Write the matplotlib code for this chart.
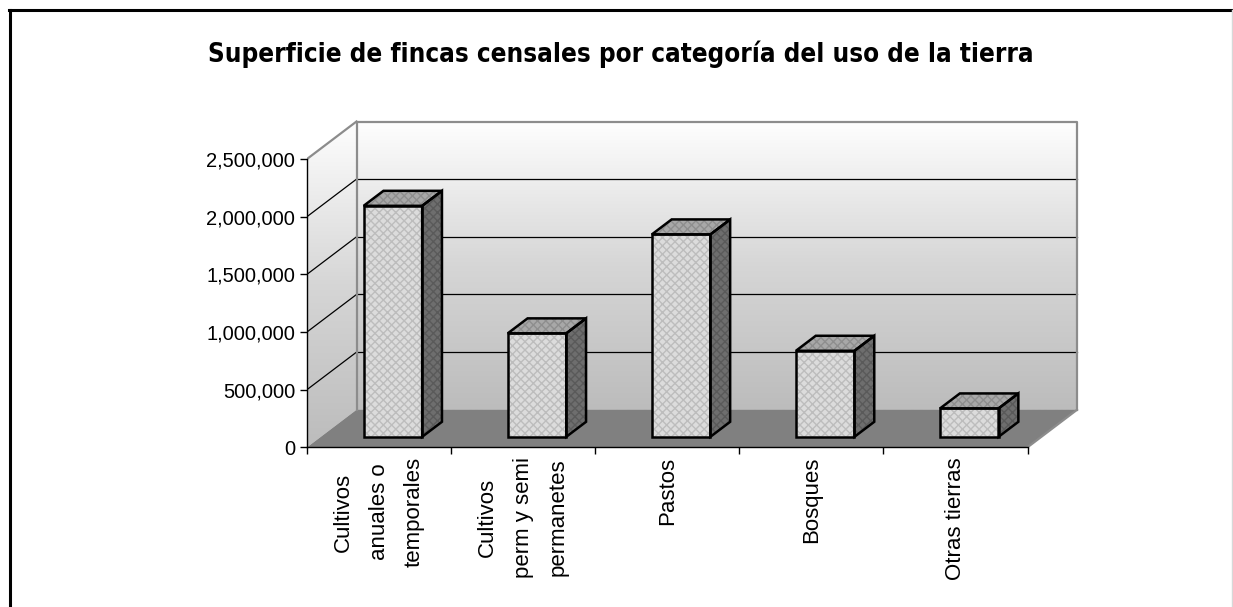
import numpy as np
import matplotlib
matplotlib.use("Agg")
import matplotlib.pyplot as plt
from matplotlib.patches import Polygon
from matplotlib.lines import Line2D
from matplotlib import font_manager
from matplotlib.font_manager import FontProperties
from matplotlib.colors import LinearSegmentedColormap

# ---------------- data ----------------
title = "Superficie de fincas censales por categoría del uso de la tierra"
categories = ["Cultivos\nanuales o\ntemporales",
              "Cultivos\nperm y semi\npermanetes",
              "Pastos",
              "Bosques",
              "Otras tierras"]
values = [2003000, 897000, 1755000, 746000, 246000]
yticks = [0, 500000, 1000000, 1500000, 2000000, 2500000]
ytick_labels = ["0", "500,000", "1,000,000", "1,500,000", "2,000,000", "2,500,000"]

# ---------------- style / geometry ----------------
plt.rcParams['font.family'] = ['Liberation Sans', 'DejaVu Sans']
W_PX, H_PX = 1233, 607
fig = plt.figure(figsize=(W_PX / 100, H_PX / 100), dpi=100)
fig.patch.set_facecolor('white')

X0_PX, Y0_PX = 307.0, 447.3          # pixel position of data origin
PX_PER_CAT = 144.1
PX_PER_VAL = 57.66 / 500000
XMAX, YMAX = 5.45, 2.9e6
ax = fig.add_axes([X0_PX / W_PX, (H_PX - Y0_PX) / H_PX,
                   XMAX * PX_PER_CAT / W_PX, YMAX * PX_PER_VAL / H_PX])
ax.set_facecolor('none')

n = len(categories)
VTOP = yticks[-1]
DX = 49.5 / PX_PER_CAT                 # depth offset in category units
DY = 37.5 / PX_PER_VAL                 # depth offset in value units
F0, F1 = 0.28, 0.68                    # bar depth span (fraction of depth)
BW = 58.5 / PX_PER_CAT                 # bar width

grad = np.linspace(0, 1, 256).reshape(-1, 1)
wall_cmap = LinearSegmentedColormap.from_list('wall', ['#bcbcbc', '#d6d6d6', '#fefefe'])

# back wall
ax.imshow(grad, extent=(DX, n + DX, DY, VTOP + DY), origin='lower',
          cmap=wall_cmap, aspect='auto', interpolation='bilinear', zorder=0)
# side (left) wall
side = ax.imshow(grad, extent=(0, DX, 0, VTOP + DY), origin='lower',
                 cmap=wall_cmap, aspect='auto', interpolation='bilinear', zorder=0)
side_poly = Polygon([(0, 0), (DX, DY), (DX, VTOP + DY), (0, VTOP)],
                    closed=True, transform=ax.transData, facecolor='none', edgecolor='none')
ax.add_patch(side_poly)
side.set_clip_path(side_poly)

# floor
ax.add_patch(Polygon([(0, 0), (n, 0), (n + DX, DY), (DX, DY)], closed=True,
                     facecolor='#808080', edgecolor='none', zorder=1))

# gridlines
for v in yticks[1:-1]:
    ax.plot([DX, n + DX], [v + DY, v + DY], color='black', lw=0.9, zorder=1.5)
    ax.plot([0, DX], [v, v + DY], color='black', lw=0.9, zorder=1.5)

# wall borders
gray = '#8c8c8c'
ax.plot([DX, DX, n + DX, n + DX], [DY, VTOP + DY, VTOP + DY, DY], color=gray, lw=1.6, zorder=1.6)
ax.plot([0, DX], [VTOP, VTOP + DY], color=gray, lw=1.6, zorder=1.6)
ax.plot([n, n + DX], [0, DY], color=gray, lw=1.6, zorder=1.6)

# bars
ddx = (F1 - F0) * DX
ddy = (F1 - F0) * DY
for i, v in enumerate(values):
    x0 = i + 0.5 - BW / 2 + F0 * DX
    y0 = F0 * DY
    front = [(x0, y0), (x0 + BW, y0), (x0 + BW, y0 + v), (x0, y0 + v)]
    top = [(x0, y0 + v), (x0 + BW, y0 + v), (x0 + BW + ddx, y0 + v + ddy), (x0 + ddx, y0 + v + ddy)]
    sidef = [(x0 + BW, y0), (x0 + BW + ddx, y0 + ddy), (x0 + BW + ddx, y0 + v + ddy), (x0 + BW, y0 + v)]
    for pts, fc, hc in [(front, '#dcdcdc', '#bdbdbd'),
                        (top, '#a8a8a8', '#8e8e8e'),
                        (sidef, '#6e6e6e', '#5a5a5a')]:
        ax.add_patch(Polygon(pts, closed=True, facecolor=fc, edgecolor=hc,
                             hatch='xxxx', lw=0, zorder=3))
        ax.add_patch(Polygon(pts, closed=True, facecolor='none', edgecolor='black',
                             lw=1.8, joinstyle='miter', zorder=3.1))

# axes and ticks
ax.set_xlim(0, XMAX)
ax.set_ylim(0, YMAX)
for s in ['top', 'right']:
    ax.spines[s].set_visible(False)
ax.spines['left'].set_bounds(0, VTOP)
ax.spines['bottom'].set_bounds(0, n)
for s in ['left', 'bottom']:
    ax.spines[s].set_linewidth(1.0)
    ax.spines[s].set_color('black')
    ax.spines[s].set_zorder(2)

ax.set_yticks(yticks)
ax.set_yticklabels(ytick_labels, fontsize=14.5)
ax.tick_params(axis='y', direction='out', length=5, width=1, pad=3.5, colors='black')

ax.set_xticks(np.arange(n + 1))
ax.set_xticklabels([])
ax.tick_params(axis='x', which='major', direction='out', length=5, width=1, colors='black')
ax.set_xticks(np.arange(n) + 0.5, minor=True)
ax.set_xticklabels(categories, minor=True, rotation=90, fontsize=16,
                   linespacing=1.9, multialignment='center')
ax.tick_params(axis='x', which='minor', length=0, pad=7)

# title: prefer a narrow/condensed bold face if one is installed
title_fp = None
pref = ['Liberation Sans Narrow', 'Arimo', 'Noto Sans', 'DejaVu Sans', 'Roboto', 'Open Sans']
condensed = []
for f in font_manager.fontManager.ttflist:
    nm = f.name
    fn = f.fname.lower()
    is_cond = (f.stretch in ('condensed', 'semi-condensed', 'extra-condensed')
               or 'narrow' in fn or 'condensed' in fn)
    is_bold = (f.weight in ('bold', 700, 'semibold', 600)
               or (isinstance(f.weight, int) and f.weight >= 600)
               or 'bold' in fn)
    if is_cond and is_bold and 'italic' not in fn and 'oblique' not in fn \
            and 'semibold' not in fn and 'extrabold' not in fn and 'semicondensed' not in fn \
            and 'extracondensed' not in fn and 'mono' not in fn and 'serif' not in fn.replace('sans', ''):
        rank = len(pref)
        for k, p in enumerate(pref):
            if nm.startswith(p) or p.lower().replace(' ', '') in fn.replace('-', '').replace('_', ''):
                rank = k
                break
        condensed.append((rank, f.fname))
if condensed:
    condensed.sort()
    title_fp = FontProperties(fname=condensed[0][1])
else:
    title_fp = FontProperties(family=['Liberation Sans', 'DejaVu Sans'], weight='bold')

t = fig.text(620.5 / W_PX, (H_PX - 61.7) / H_PX, title, ha='center', va='baseline',
             fontproperties=title_fp)
t.set_fontsize(20)
fig.canvas.draw()
bb = t.get_window_extent()
t.set_fontsize(20 * 825.0 / bb.width)

# figure border (left, top black; right faint gray)
fig.add_artist(Line2D([9.5 / W_PX, 9.5 / W_PX], [0, (H_PX - 10) / H_PX], color='black', lw=2.2,
                      transform=fig.transFigure))
fig.add_artist(Line2D([8.5 / W_PX, 1232 / W_PX], [(H_PX - 10) / H_PX, (H_PX - 10) / H_PX],
                      color='black', lw=2.2, transform=fig.transFigure))
fig.add_artist(Line2D([1231.5 / W_PX, 1231.5 / W_PX], [0, (H_PX - 10) / H_PX], color='#d8d8d8',
                      lw=1, transform=fig.transFigure))

fig.savefig('out.png', dpi=100, facecolor='white')
